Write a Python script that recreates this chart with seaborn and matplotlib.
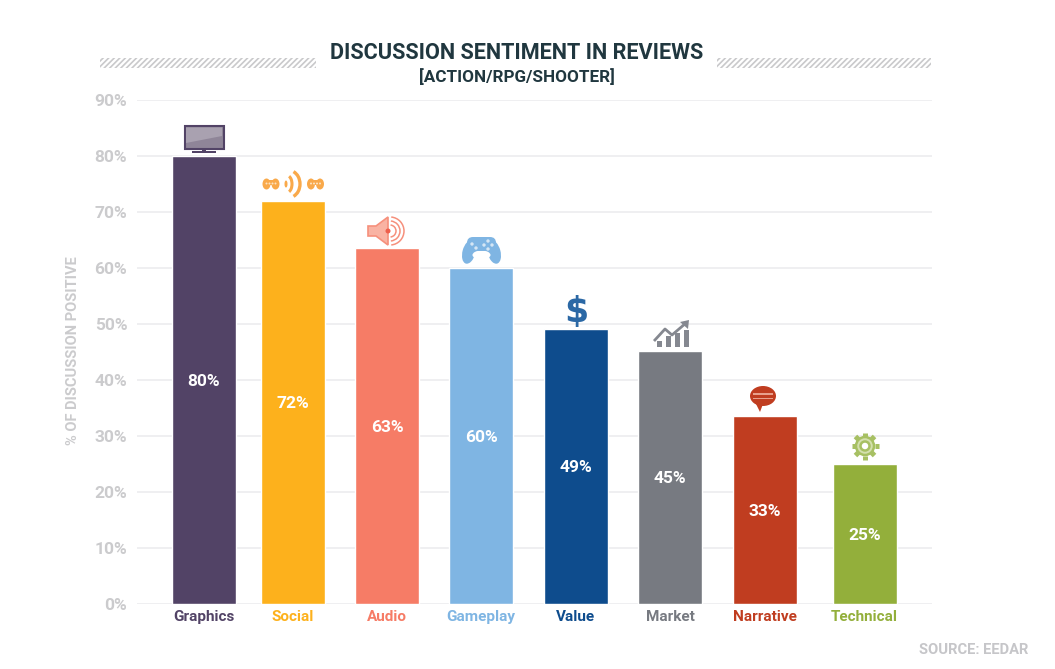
#!/usr/bin/env python3
"""Discussion sentiment in reviews, bar chart with small icons over the bars."""
import numpy as np
import pandas as pd
import matplotlib
matplotlib.use('Agg')
import matplotlib.pyplot as plt
from matplotlib.patches import Rectangle, Circle, Ellipse, Polygon, Arc, FancyBboxPatch
import seaborn as sns

categories = ['Graphics', 'Social', 'Audio', 'Gameplay', 'Value', 'Market', 'Narrative', 'Technical']
positive = [80, 72, 63.6, 60, 49.1, 45.2, 33.5, 25]
bar_labels = ['80%', '72%', '63%', '60%', '49%', '45%', '33%', '25%']
colors = ['#524366', '#FDB11C', '#F67C66', '#7FB5E3', '#0E4C8D', '#777A81', '#C03D20', '#93AF3B']
y_ticks = [0, 10, 20, 30, 40, 50, 60, 70, 80, 90]

W, H = 1055, 669
bar_centers_px = [204, 293, 387, 481, 576, 670, 765, 864.5]

sns.set_theme(style='white')
plt.rcParams['font.family'] = ['Roboto', 'DejaVu Sans']

fig = plt.figure(figsize=(W / 100, H / 100), dpi=100, facecolor='white')
ax = fig.add_axes([137 / W, 1 - 604 / H, (932 - 137) / W, (604 - 100) / H])

df = pd.DataFrame({'category': categories, 'positive': positive})
sns.barplot(data=df, x='category', y='positive', hue='category', palette=colors,
            legend=False, width=0.68, saturation=1, ax=ax, zorder=3)

# bars are not evenly spaced in the original, so slide them to their spots
ax.set_xlim(137, 932)
ax.set_ylim(0, 90)
for bar, cx in zip(ax.patches, bar_centers_px):
    bar.set_x(cx - 32)
    bar.set_width(64)

for cx, val, lab in zip(bar_centers_px, positive, bar_labels):
    ax.annotate(lab, (cx, val / 2), xytext=(0, -1), textcoords='offset points',
                color='white', ha='center', va='center',
                fontsize=12.5, fontweight='bold', zorder=4)

ax.set_yticks(y_ticks)
ax.set_yticklabels([f'{t}%' for t in y_ticks], color='#CBCBCD', fontsize=12.5, fontweight='bold')
ax.set_xticks(bar_centers_px)
ax.set_xticklabels(categories, fontsize=11, fontweight='bold')
for lab, c in zip(ax.get_xticklabels(), colors):
    lab.set_color(c)
ax.tick_params(axis='both', length=0)
ax.tick_params(axis='x', pad=4.5)
ax.tick_params(axis='y', pad=7)
ax.grid(axis='y', color='#EEEEF0', linewidth=1.3, zorder=0)
ax.set_axisbelow(True)
sns.despine(ax=ax, left=True, bottom=True, top=True, right=True)
ax.set_xlabel('')
ax.set_ylabel('')

# overlay in image pixels for header, footer and the icons
ov = fig.add_axes([0, 0, 1, 1], facecolor='none')
ov.set_xlim(0, W)
ov.set_ylim(H, 0)
ov.axis('off')

ov.text(517, 53, 'DISCUSSION SENTIMENT IN REVIEWS', ha='center', va='center',
        fontsize=15.6, fontweight='bold', color='#20373F')
ov.text(517, 77, '[ACTION/RPG/SHOOTER]', ha='center', va='center',
        fontsize=12.3, fontweight='bold', color='#20373F')
ov.text(73, 351, '% OF DISCUSSION POSITIVE', rotation=90, ha='center', va='center',
        fontsize=10.5, fontweight='bold', color='#CBCBCD')
ov.text(1028, 650, 'SOURCE: EEDAR', ha='right', va='center',
        fontsize=10.6, fontweight='bold', color='#C6C6C9')

plt.rcParams['hatch.linewidth'] = 1.2
for x0, x1 in [(100, 316), (717, 931)]:
    ov.add_patch(Rectangle((x0, 58), x1 - x0, 10, facecolor='none', edgecolor='#C9C9CB',
                           hatch='//////', linewidth=0))

# TV
c = colors[0]
ov.add_patch(Rectangle((184.5, 126), 39, 23, facecolor='#8F8598', edgecolor=c, linewidth=1.5))
ov.add_patch(Polygon([(186, 127.5), (222, 127.5), (222, 136), (186, 143)], color='#A9A1B0', lw=0))
ov.add_patch(Rectangle((192, 151), 24, 1.6, color=c, lw=0))
ov.add_patch(Rectangle((202, 149), 4, 2.5, color=c, lw=0))

# Social: two pads and waves
c = '#F9A94A'
for px in (271, 315.5):
    ov.add_patch(Ellipse((px - 4.5, 184), 8, 11, color=c, lw=0))
    ov.add_patch(Ellipse((px + 4.5, 184), 8, 11, color=c, lw=0))
    ov.add_patch(Rectangle((px - 4, 179.5), 8, 5, color=c, lw=0))
    for dx in (-4.5, -1.5, 1.5, 4.5):
        ov.add_patch(Circle((px + dx, 183.5), 1, color='#FDE3C0', lw=0))
ov.add_patch(Ellipse((286, 184), 3, 7, color=c, lw=0))
ov.add_patch(Arc((287, 184), 10, 17, theta1=-75, theta2=75, color=c, linewidth=2.2))
ov.add_patch(Arc((289, 184), 22, 27, theta1=-70, theta2=70, color=c, linewidth=2.4))

# Speaker
c = '#F6907C'
ov.add_patch(Polygon([(368, 226), (376, 226), (388, 217), (388, 245), (376, 236), (368, 236)],
                     facecolor='#F9B3A3', edgecolor=c, linewidth=1.2))
ov.add_patch(Circle((388, 231), 2.5, color='#EE5F4C', lw=0))
for r in (6, 10, 14):
    ov.add_patch(Arc((390, 231), r * 2, r * 2, theta1=-85, theta2=85, color=c, linewidth=1.1))

# Gamepad
c = colors[3]
ov.add_patch(FancyBboxPatch((467, 237), 29, 16, boxstyle='round,pad=0,rounding_size=6', color=c, lw=0))
ov.add_patch(Ellipse((469, 252), 13, 24, angle=15, color=c, lw=0))
ov.add_patch(Ellipse((494, 252), 13, 24, angle=-15, color=c, lw=0))
ov.add_patch(Ellipse((481.5, 255), 18, 9, color='white', lw=0))
ov.add_patch(Rectangle((475, 248), 13, 3, color=c, lw=0))
for dx, dy in [(472, 244), (476, 248), (488, 241), (492, 245), (488, 249), (484, 245)]:
    ov.add_patch(Circle((dx, dy), 1.7, color='#D5E6F5', lw=0))

# Dollar sign, kept as text
ov.text(576.5, 312, '$', ha='center', va='center', fontsize=25, fontweight='bold',
        color='#2B68A5', family='DejaVu Sans')

# Market chart
c = '#858890'
for bx, by in [(656, 341), (665, 336), (674, 333), (683, 330)]:
    ov.add_patch(Polygon([(bx + 1, by), (bx + 6, by + 0), (bx + 6, 347), (bx + 1, 347)], color=c, lw=0))
ov.plot([654, 665, 672, 686], [341, 329, 335, 323], color=c, linewidth=2, solid_capstyle='butt')
ov.add_patch(Polygon([(680, 322), (689, 320), (688, 329)], color=c, lw=0))

# Speech bubble
c = colors[6]
ov.add_patch(Ellipse((763, 396), 26, 20, color=c, lw=0))
ov.add_patch(Polygon([(755, 402), (763, 404), (760, 412)], color=c, lw=0))
ov.add_patch(Rectangle((753, 393), 20, 1.5, color='#E8A08C', lw=0))
ov.add_patch(Rectangle((753, 397.5), 20, 1.5, color='#E8A08C', lw=0))

# Gear
c = '#A7C063'
ov.add_patch(Circle((865, 446), 9, facecolor='#D4E0AE', edgecolor=c, linewidth=1.8))
ov.add_patch(Circle((865, 446), 4.5, facecolor='white', edgecolor=c, linewidth=1.8))
for ang in np.arange(0, 360, 45):
    a = np.deg2rad(ang)
    ov.plot([865 + 9.5 * np.cos(a), 865 + 13.5 * np.cos(a)],
            [446 + 9.5 * np.sin(a), 446 + 13.5 * np.sin(a)],
            color=c, linewidth=3.6, solid_capstyle='butt')

fig.savefig('out.png', dpi=100)
